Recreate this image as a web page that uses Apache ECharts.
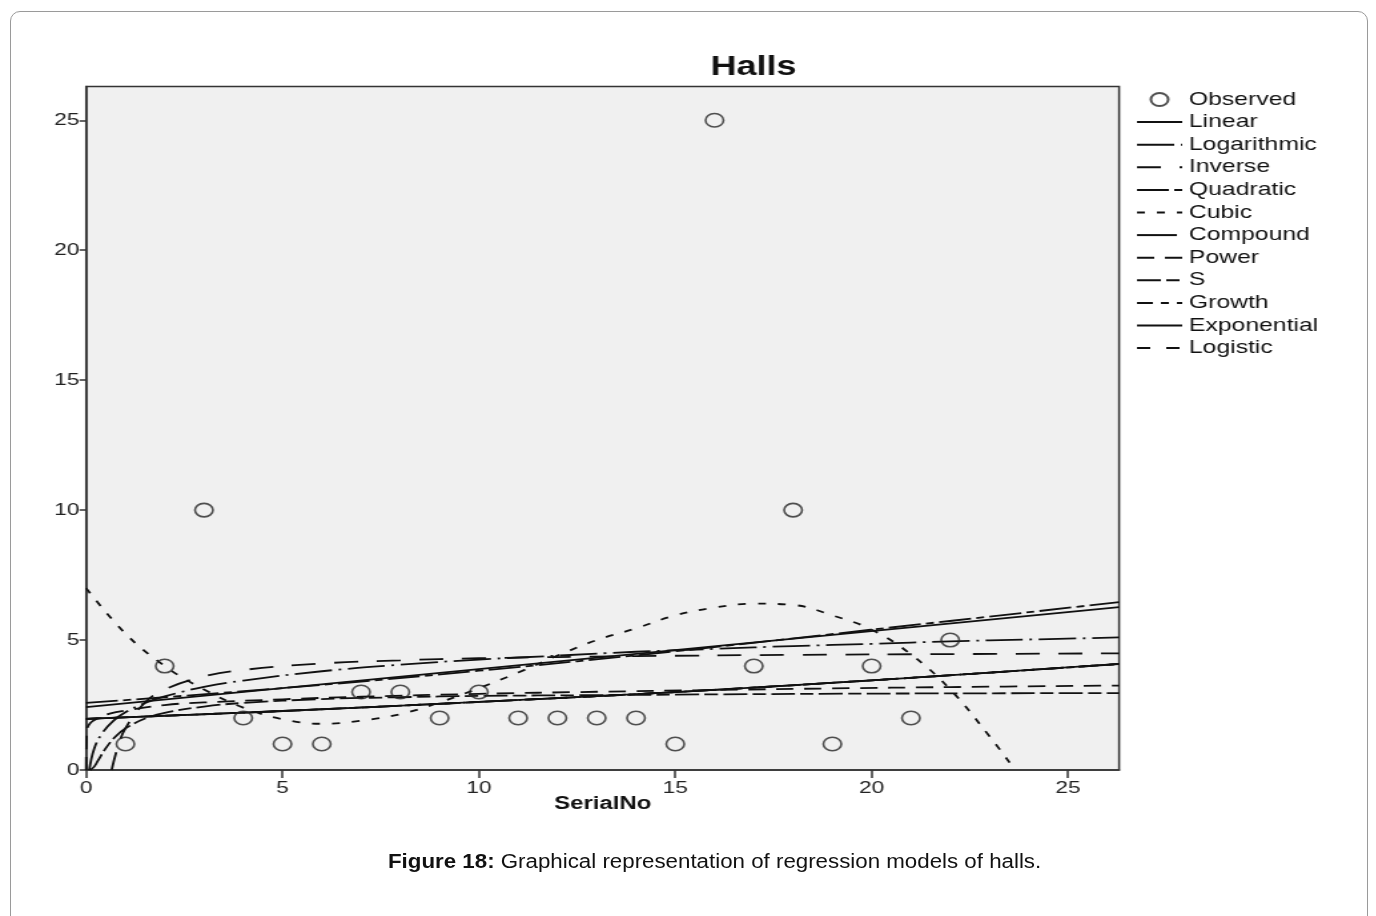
<!DOCTYPE html>
<html>
<head>
<meta charset="utf-8">
<script src="https://cdn.jsdelivr.net/npm/echarts@6/dist/echarts.min.js"></script>
<style>
  html, body { margin: 0; padding: 0; background: #fff; width: 1376px; height: 916px; overflow: hidden; }
  #frame { position: absolute; left: 10px; top: 11px; width: 1358px; height: 940px; border: 1px solid #9a9a9a; border-radius: 10px; box-sizing: border-box; }
  #wrap { position: absolute; left: 0; top: 0; width: 1034.6px; height: 916px; transform: scaleX(1.33); transform-origin: 0 0; }
  #chart { width: 1034.6px; height: 916px; }
  #caption { position: absolute; left: 388px; top: 850px; font-family: "Liberation Sans", Arial, sans-serif; font-size: 20px; color: #111; white-space: nowrap; transform: scaleX(1.115); transform-origin: 0 0; }
</style>
</head>
<body>
<div id="frame"></div>
<div id="wrap"><div id="chart"></div></div>
<div id="caption"><b>Figure 18:</b> Graphical representation of regression models of halls.</div>
<script>
// ---- data ----
const titleText = 'Halls';
const xName = 'SerialNo';
const xTicks = [0, 5, 10, 15, 20, 25];
const yTicks = [0, 5, 10, 15, 20, 25];
const axisMax = 26.3;

const obsX = [1,2,3,4,5,6,7,8,9,10,11,12,13,14,15,16,17,18,19,20,21,22];
const obsY = [1,4,10,2,1,1,3,3,2,3,2,2,2,2,1,25,4,10,1,4,2,5];

const linearPts = [[0,2.42],[26.3,6.27]];
const logPts = [[0.08,0],[0.2,0.8],[0.4,1.4],[0.7,1.9],[1,2.22],[1.5,2.58],[2,2.83],[3,3.2],[4,3.44],[6,3.8],[8,4.05],[10,4.25],[12,4.4],[14,4.55],[16,4.66],[18,4.77],[20,4.85],[22,4.95],[24,5.02],[26.3,5.1]];
const inversePts = [[0.65,0],[0.8,0.85],[1,1.6],[1.5,2.6],[2,3.1],[3,3.6],[4,3.85],[6,4.1],[8,4.22],[10,4.3],[14,4.38],[18,4.43],[22,4.46],[26.3,4.49]];
const quadPts = [[0,2.58],[5,3.15],[10,3.82],[15,4.57],[20,5.4],[26.3,6.46]];
const cubicPts = [[0,7.0],[1,5.25],[2,4.0],[3,3.1],[4,2.4],[5,1.95],[6,1.78],[7,1.9],[8,2.15],[9,2.6],[10,3.15],[11,3.75],[12,4.4],[13,5.0],[14,5.45],[15,5.95],[16,6.25],[17,6.4],[18,6.35],[19,5.95],[20,5.4],[21,4.45],[22,3.1],[23,1.3],[23.65,0]];
const expPts = [[0,1.97],[5,2.27],[10,2.62],[15,3.0],[20,3.45],[26.3,4.08]];
const powerPts = [[0,0],[0.02,1.5],[0.1,1.8],[0.3,2.0],[0.6,2.17],[1,2.29],[2,2.5],[3,2.6],[5,2.72],[7,2.82],[10,2.93],[13,3.01],[16,3.08],[19,3.14],[22,3.19],[26.3,3.25]];
const sPts = [[0.1,0],[0.2,0.12],[0.3,0.36],[0.5,0.84],[0.75,1.29],[1,1.6],[1.5,1.98],[2,2.2],[3,2.44],[4,2.58],[6,2.73],[8,2.8],[10,2.85],[13,2.88],[16,2.91],[20,2.94],[26.3,2.96]];

const modelNames = ['Linear','Logarithmic','Inverse','Quadratic','Cubic','Compound','Power','S','Growth','Exponential','Logistic'];
const modelPts = [linearPts, logPts, inversePts, quadPts, cubicPts, expPts, powerPts, sPts, expPts, expPts, expPts];
// ---- styling ----
const dashes = ['solid', [28,5,2,5], [18,14], [24,4,6,4], [6,9], [30,5,1.5,5], [13,8], [18,4,10,4], [12,6,6,6], 'solid', [10,12]];

const FONT = '"Liberation Sans", Arial, sans-serif';
const chart = echarts.init(document.getElementById('chart'), null, { renderer: 'canvas', width: 1034.6, height: 916 });

const series = [{
  name: 'Observed', type: 'scatter',
  data: obsX.map((x, i) => [x, obsY[i]]),
  symbol: 'circle', symbolSize: 13.5,
  itemStyle: { color: 'rgba(0,0,0,0)', borderColor: '#262626', borderWidth: 1.6 },
  z: 5
}];
modelNames.forEach((n, i) => {
  series.push({
    name: n, type: 'line', data: modelPts[i],
    symbol: 'none', smooth: i === 0 ? false : 0.4,
    lineStyle: { color: '#111', width: 1.8, type: dashes[i] },
    itemStyle: { color: 'rgba(0,0,0,0)', borderWidth: 0 },
    clip: true, z: 3
  });
});

chart.setOption({
  animation: false,
  backgroundColor: 'transparent',
  title: {
    text: titleText, left: 566, top: 54, textAlign: 'center', padding: 0,
    textStyle: { fontFamily: FONT, fontWeight: 'bold', fontSize: 27, color: '#111' }
  },
  legend: {
    orient: 'vertical', left: 853, top: 90, padding: 0,
    itemWidth: 34, itemHeight: 13, itemGap: 3.6,
    textStyle: { fontFamily: FONT, fontSize: 18.6, color: '#111' },
    data: ['Observed'].concat(modelNames)
  },
  grid: {
    left: 64.7, right: 194, top: 86.5, bottom: 146,
    show: true, backgroundColor: '#f0f0f0', borderColor: '#333', borderWidth: 1.5
  },
  xAxis: {
    type: 'value', min: 0, max: axisMax, interval: 5,
    name: xName, nameLocation: 'middle', nameGap: 25, nameMoveOverlap: false,
    nameTextStyle: { fontFamily: FONT, fontWeight: 'bold', fontSize: 18, color: '#111', verticalAlign: 'top' },
    axisLine: { show: true, lineStyle: { color: '#333', width: 1.5 } },
    axisTick: { show: true, length: 8, lineStyle: { color: '#333', width: 1.5 }, customValues: xTicks },
    axisLabel: { fontFamily: FONT, fontSize: 17, color: '#222', margin: 10, customValues: xTicks },
    splitLine: { show: false }
  },
  yAxis: {
    type: 'value', min: 0, max: axisMax, interval: 5,
    axisLine: { show: true, lineStyle: { color: '#333', width: 1.5 } },
    axisTick: { show: true, length: 5, lineStyle: { color: '#333', width: 1.5 }, customValues: yTicks },
    axisLabel: { fontFamily: FONT, fontSize: 17, color: '#222', margin: 5, customValues: yTicks },
    splitLine: { show: false }
  },
  series: series
});
</script>
</body>
</html>
